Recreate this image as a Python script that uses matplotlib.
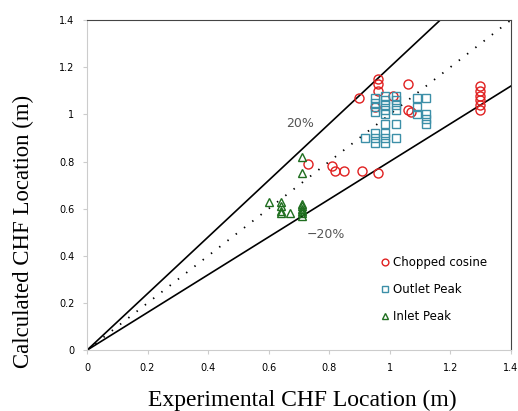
import matplotlib.pyplot as plt
import numpy as np

# --- data ---
cc_x = [0.90, 0.96, 0.96, 0.96, 0.95, 1.01, 1.06, 1.06, 1.07,
        1.30, 1.30, 1.30, 1.30, 1.30, 1.30,
        0.73, 0.81, 0.82, 0.85, 0.91, 0.96]
cc_y = [1.07, 1.15, 1.13, 1.10, 1.03, 1.08, 1.13, 1.02, 1.01,
        1.12, 1.10, 1.08, 1.06, 1.04, 1.02,
        0.79, 0.78, 0.76, 0.76, 0.76, 0.75]

op_x = [0.92,
        0.95, 0.95, 0.95, 0.95, 0.95, 0.95, 0.95,
        0.985, 0.985, 0.985, 0.985, 0.985, 0.985, 0.985, 0.985, 0.985,
        1.02, 1.02, 1.02, 1.02, 1.02, 1.02,
        1.09, 1.09, 1.09,
        1.12, 1.12, 1.12, 1.12]
op_y = [0.90,
        1.07, 1.05, 1.03, 1.01, 0.92, 0.90, 0.88,
        1.08, 1.06, 1.04, 1.02, 1.00, 0.96, 0.92, 0.90, 0.88,
        1.08, 1.06, 1.04, 1.02, 0.96, 0.90,
        1.07, 1.03, 1.00,
        1.07, 1.00, 0.98, 0.96]

ip_x = [0.71, 0.71, 0.71, 0.71, 0.71, 0.71, 0.71, 0.71,
        0.60, 0.64, 0.64, 0.64, 0.64, 0.67]
ip_y = [0.82, 0.75, 0.62, 0.61, 0.60, 0.59, 0.58, 0.57,
        0.63, 0.63, 0.61, 0.59, 0.58, 0.58]

ticks = [0, 0.2, 0.4, 0.6, 0.8, 1, 1.2, 1.4]
tick_labels = ['0', '0.2', '0.4', '0.6', '0.8', '1', '1.2', '1.4']

fig = plt.figure(figsize=(5.18, 4.11), dpi=100)
ax = fig.add_axes([0.168, 0.148, 0.818, 0.803])

# reference lines: +20%, -20%, 1:1
xl = np.array([0, 1.4])
ax.plot(xl, 1.2 * xl, color='black', lw=1.2)
ax.plot(xl, 0.8 * xl, color='black', lw=1.2)
ax.plot(xl, xl, color='black', lw=1.3, linestyle=(0, (0.8, 5)))

ax.plot(cc_x, cc_y, 'o', ms=6.5, mfc='none', mec='#e02020', mew=1.0,
        label='Chopped cosine')
ax.plot(op_x, op_y, 's', ms=6, mfc='none', mec='#3c8fa8', mew=1.0,
        label='Outlet Peak')
ax.plot(ip_x, ip_y, '^', ms=6, mfc='none', mec='#1f6e1f', mew=1.0,
        label='Inlet Peak')

ax.text(0.705, 0.96, '20%', fontsize=9, color='#555555', ha='center', va='center')
ax.text(0.79, 0.49, '\u221220%', fontsize=9, color='#555555', ha='center', va='center')

ax.set_xlim(0, 1.4)
ax.set_ylim(0, 1.4)
ax.set_xticks(ticks)
ax.set_xticklabels(tick_labels)
ax.set_yticks(ticks)
ax.set_yticklabels(tick_labels)
ax.tick_params(labelsize=7, length=3, color='#cccccc', pad=6)

for s in ['left', 'bottom']:
    ax.spines[s].set_color('#cccccc')
for s in ['top', 'right']:
    ax.spines[s].set_color('#444444')

ax.set_xlabel('Experimental CHF Location (m)', family='Liberation Serif',
              fontsize=17)
ax.set_ylabel('Calculated CHF Location (m)', family='Liberation Serif',
              fontsize=16.4)
ax.xaxis.set_label_coords(0.509, -0.121)
ax.xaxis.label.set_va('top')
ax.yaxis.set_label_coords(-0.125, 0.36)

leg = ax.legend(loc='upper left', bbox_to_anchor=(0.67, 0.318), frameon=False,
                handlelength=0.6, handletextpad=0.4, labelspacing=1.2,
                markerscale=0.75,
                prop={'family': ['Liberation Sans Narrow', 'DejaVu Sans'],
                      'size': 8.5})

fig.savefig('out.png', dpi=100)
